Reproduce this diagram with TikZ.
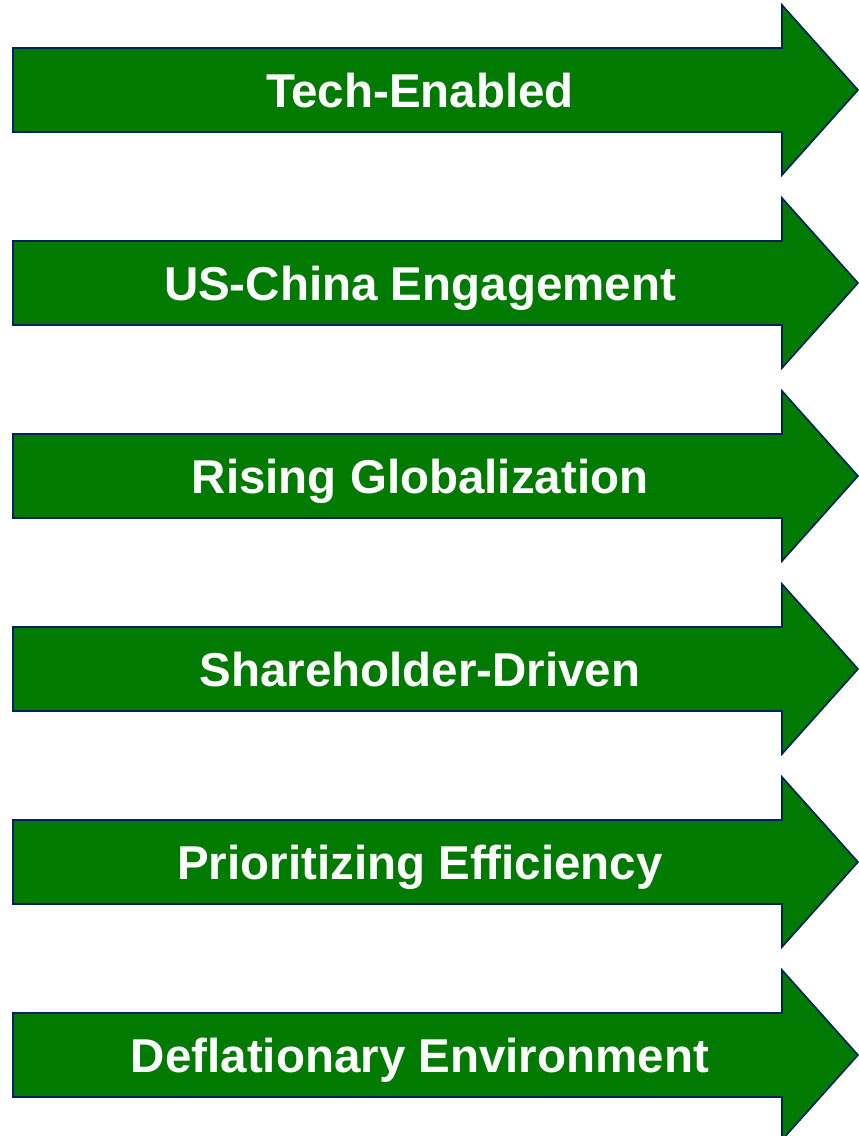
\documentclass[tikz,border=0pt]{standalone}
\usepackage{fontspec}
\setmainfont{Liberation Sans}
\usepackage{tikz}
\usetikzlibrary{calc,positioning}
\definecolor{arrowgreen}{RGB}{0,122,0}
\definecolor{arrownavy}{RGB}{0,32,96}
\tikzstyle{trend}=[draw=arrownavy, fill=arrowgreen,
                   line width=1.6pt, line join=miter]
\tikzstyle{label}=[text=white, inner sep=0pt, anchor=base,
                   font=\fontsize{47.5}{56}\selectfont\bfseries]

\begin{document}
\begin{tikzpicture}[x=1pt, y=-1pt]
        \useasboundingbox (0,0) rectangle (859,1136);
        \foreach \name/\txt [count=\i from 0] in
                {tech/Tech-Enabled, china/US-China Engagement,
                 global/Rising Globalization, share/Shareholder-Driven,
                 effic/Prioritizing Efficiency, defl/Deflationary Environment}
        {
                \coordinate (top\name) at (0,193*\i);
                \draw[trend] ($(top\name)+(13,48)$) -- ++(769,0) -- ++(0,-43)
                        -- ++(76,85) -- ++(-76,85) -- ++(0,-43) -- ++(-769,0) -- cycle;
                \node[label] (\name) at ($(top\name)+(420,107)$) {\txt};
        }
\end{tikzpicture}
\end{document}
